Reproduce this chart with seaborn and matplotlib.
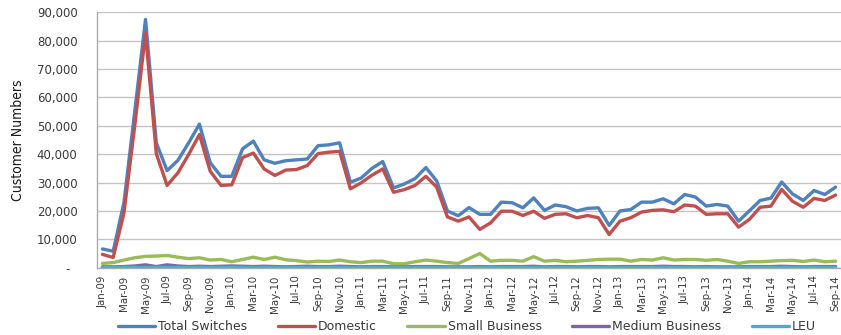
import os
import numpy as np
import pandas as pd
import matplotlib
matplotlib.use("Agg")
import matplotlib.pyplot as plt
import matplotlib.font_manager as fm
from matplotlib.lines import Line2D
from matplotlib.ticker import FuncFormatter
import seaborn as sns

# ---------------- data ----------------
months = pd.date_range("2009-01-01", "2014-09-01", freq="MS").strftime("%b-%y").tolist()

total_switches = [6600, 5800, 23000, 55000, 87500, 44000, 34200, 37800, 44000, 50600,
                  37000, 32200, 32200, 41900, 44600, 38000, 36800, 37700, 38000, 38300,
                  43000, 43300, 44000, 30100, 31600, 35000, 37400, 28100, 29500, 31400,
                  35300, 30600, 20000, 18300, 21200, 18800, 18800, 23100, 22900, 21100,
                  24600, 20200, 22100, 21500, 20000, 20900, 21100, 14900, 20000, 20500,
                  23100, 23100, 24300, 22500, 25800, 24900, 21700, 22300, 21700, 16400,
                  20000, 23700, 24500, 30200, 26000, 23700, 27200, 25800, 28400]

domestic = [4700, 3600, 19300, 50000, 82600, 40200, 29000, 33400, 39900, 46900,
            34000, 29000, 29200, 38800, 40400, 34800, 32500, 34400, 34600, 36000,
            40200, 40700, 41000, 27800, 29900, 32600, 34800, 26600, 27500, 29000,
            32200, 28400, 17900, 16400, 17900, 13500, 15800, 19900, 19900, 18400,
            19900, 17400, 18800, 19000, 17600, 18400, 17600, 11700, 16400, 17600,
            19600, 20200, 20400, 19700, 22100, 21700, 18800, 19000, 19000, 14300,
            17000, 21300, 21700, 27600, 23400, 21300, 24400, 23700, 25600]

small_business = [1500, 1800, 2700, 3500, 4000, 4100, 4300, 3700, 3200, 3500,
                  2700, 2900, 2100, 2900, 3700, 2900, 3700, 2800, 2500, 2000,
                  2300, 2200, 2700, 2100, 1800, 2300, 2300, 1400, 1400, 2100,
                  2700, 2300, 1800, 1500, 3200, 5000, 2300, 2600, 2600, 2300,
                  3900, 2300, 2600, 2100, 2300, 2600, 2900, 3000, 3000, 2300,
                  2900, 2700, 3500, 2700, 2900, 2900, 2600, 2900, 2300, 1500,
                  2100, 2100, 2300, 2500, 2600, 2200, 2700, 2100, 2300]

medium_business = [300, 300, 400, 600, 1000, 400, 1000, 600, 400, 500,
                   400, 500, 600, 500, 400, 500, 400, 300, 400, 500,
                   400, 400, 500, 400, 300, 400, 400, 300, 300, 400,
                   400, 400, 300, 300, 300, 400, 300, 400, 400, 400,
                   500, 300, 400, 400, 300, 400, 400, 300, 400, 400,
                   400, 400, 500, 400, 400, 300, 400, 300, 300, 300,
                   400, 400, 400, 500, 400, 300, 400, 400, 400]

leu = [100, 100, 120, 120, 150, 120, 130, 120, 110, 120,
       110, 100, 120, 110, 110, 120, 110, 100, 110, 120,
       110, 110, 120, 100, 110, 110, 120, 100, 100, 110,
       110, 110, 100, 100, 110, 120, 100, 110, 110, 110,
       120, 100, 110, 110, 100, 110, 110, 100, 110, 110,
       110, 110, 120, 110, 110, 100, 110, 100, 100, 100,
       110, 110, 110, 120, 110, 100, 110, 110, 110]

series_names = ["Total Switches", "Domestic", "Small Business", "Medium Business", "LEU"]
series_values = [total_switches, domestic, small_business, medium_business, leu]
colors = ["#4F81BD", "#C0504D", "#9BBB59", "#8064A2", "#4BACC6"]

# ---------------- table ----------------
rows = []
for name, vals in zip(series_names, series_values):
    for i, v in enumerate(vals):
        rows.append({"idx": i, "month": months[i], "series": name, "value": v})
df = pd.DataFrame(rows)

# ---------------- fonts ----------------
sns.set_style("white")
plt.rcParams["font.family"] = ["DejaVu Sans"]


def find_font(patterns):
    for p in patterns:
        for f in fm.fontManager.ttflist:
            if os.path.basename(f.fname).lower() == p.lower():
                return f.fname
    return None


narrow_path = find_font(["LiberationSansNarrow-Regular.ttf", "DejaVuSansCondensed.ttf"])
if narrow_path:
    fp_xt = fm.FontProperties(fname=narrow_path, size=8.2)
    fp_yl = fm.FontProperties(fname=narrow_path, size=10)
else:
    fp_xt = fm.FontProperties(family="DejaVu Sans", size=6.8)
    fp_yl = fm.FontProperties(family="DejaVu Sans", size=8.5)

text_color = "#3A3A3A"

# ---------------- figure ----------------
W, H = 841, 335
fig = plt.figure(figsize=(W / 100, H / 100), dpi=100)
ax_left, ax_right, ax_top, ax_bottom = 97, 841, 12.3, 267.7
ax = fig.add_axes([ax_left / W, 1 - ax_bottom / H, (ax_right - ax_left) / W, (ax_bottom - ax_top) / H])

sns.lineplot(data=df, x="idx", y="value", hue="series", hue_order=series_names,
             palette=colors, linewidth=2.4, legend=False, ax=ax, sort=False,
             estimator=None, solid_joinstyle="round", solid_capstyle="round")

ax.set_xlim(-0.5, len(months) - 0.5)
ax.set_ylim(0, 90000)
ax.set_yticks(np.arange(0, 90001, 10000))
ax.yaxis.set_major_formatter(FuncFormatter(lambda v, p: "-  " if v == 0 else f"{int(v):,}"))
ax.set_xticks(range(0, len(months), 2))
ax.set_xticklabels(months[::2], rotation=90, fontproperties=fp_xt, color=text_color)
ax.tick_params(axis="x", length=0, pad=5.5)
ax.tick_params(axis="y", length=0, pad=14, labelsize=8.5, labelcolor=text_color)
for lab in ax.get_yticklabels():
    lab.set_family("DejaVu Sans")

ax.grid(axis="y", color="#C4C4C4", linewidth=1.0)
ax.grid(axis="x", visible=False)
ax.set_axisbelow(True)
for side in ["top", "right"]:
    ax.spines[side].set_visible(False)
for side in ["left", "bottom"]:
    ax.spines[side].set_color("#ABABAB")
    ax.spines[side].set_linewidth(1.0)

ax.set_xlabel("")
ax.set_ylabel("")
fig.text(18 / W, 1 - ((ax_top + ax_bottom) / 2) / H, "Customer Numbers", rotation=90,
         ha="center", va="center", fontproperties=fp_yl, color="#1A1A1A")

handles = [Line2D([0], [0], color=c, linewidth=2.4) for c in colors]
fig.legend(handles, series_names, loc="center", bbox_to_anchor=(467 / W, 1 - 326.7 / H),
           bbox_transform=fig.transFigure, ncol=5, frameon=False, fontsize=9,
           handlelength=3.0, handletextpad=0.25, columnspacing=2.4, borderpad=0,
           borderaxespad=0, labelcolor=text_color)

fig.savefig("out.png", dpi=100)
